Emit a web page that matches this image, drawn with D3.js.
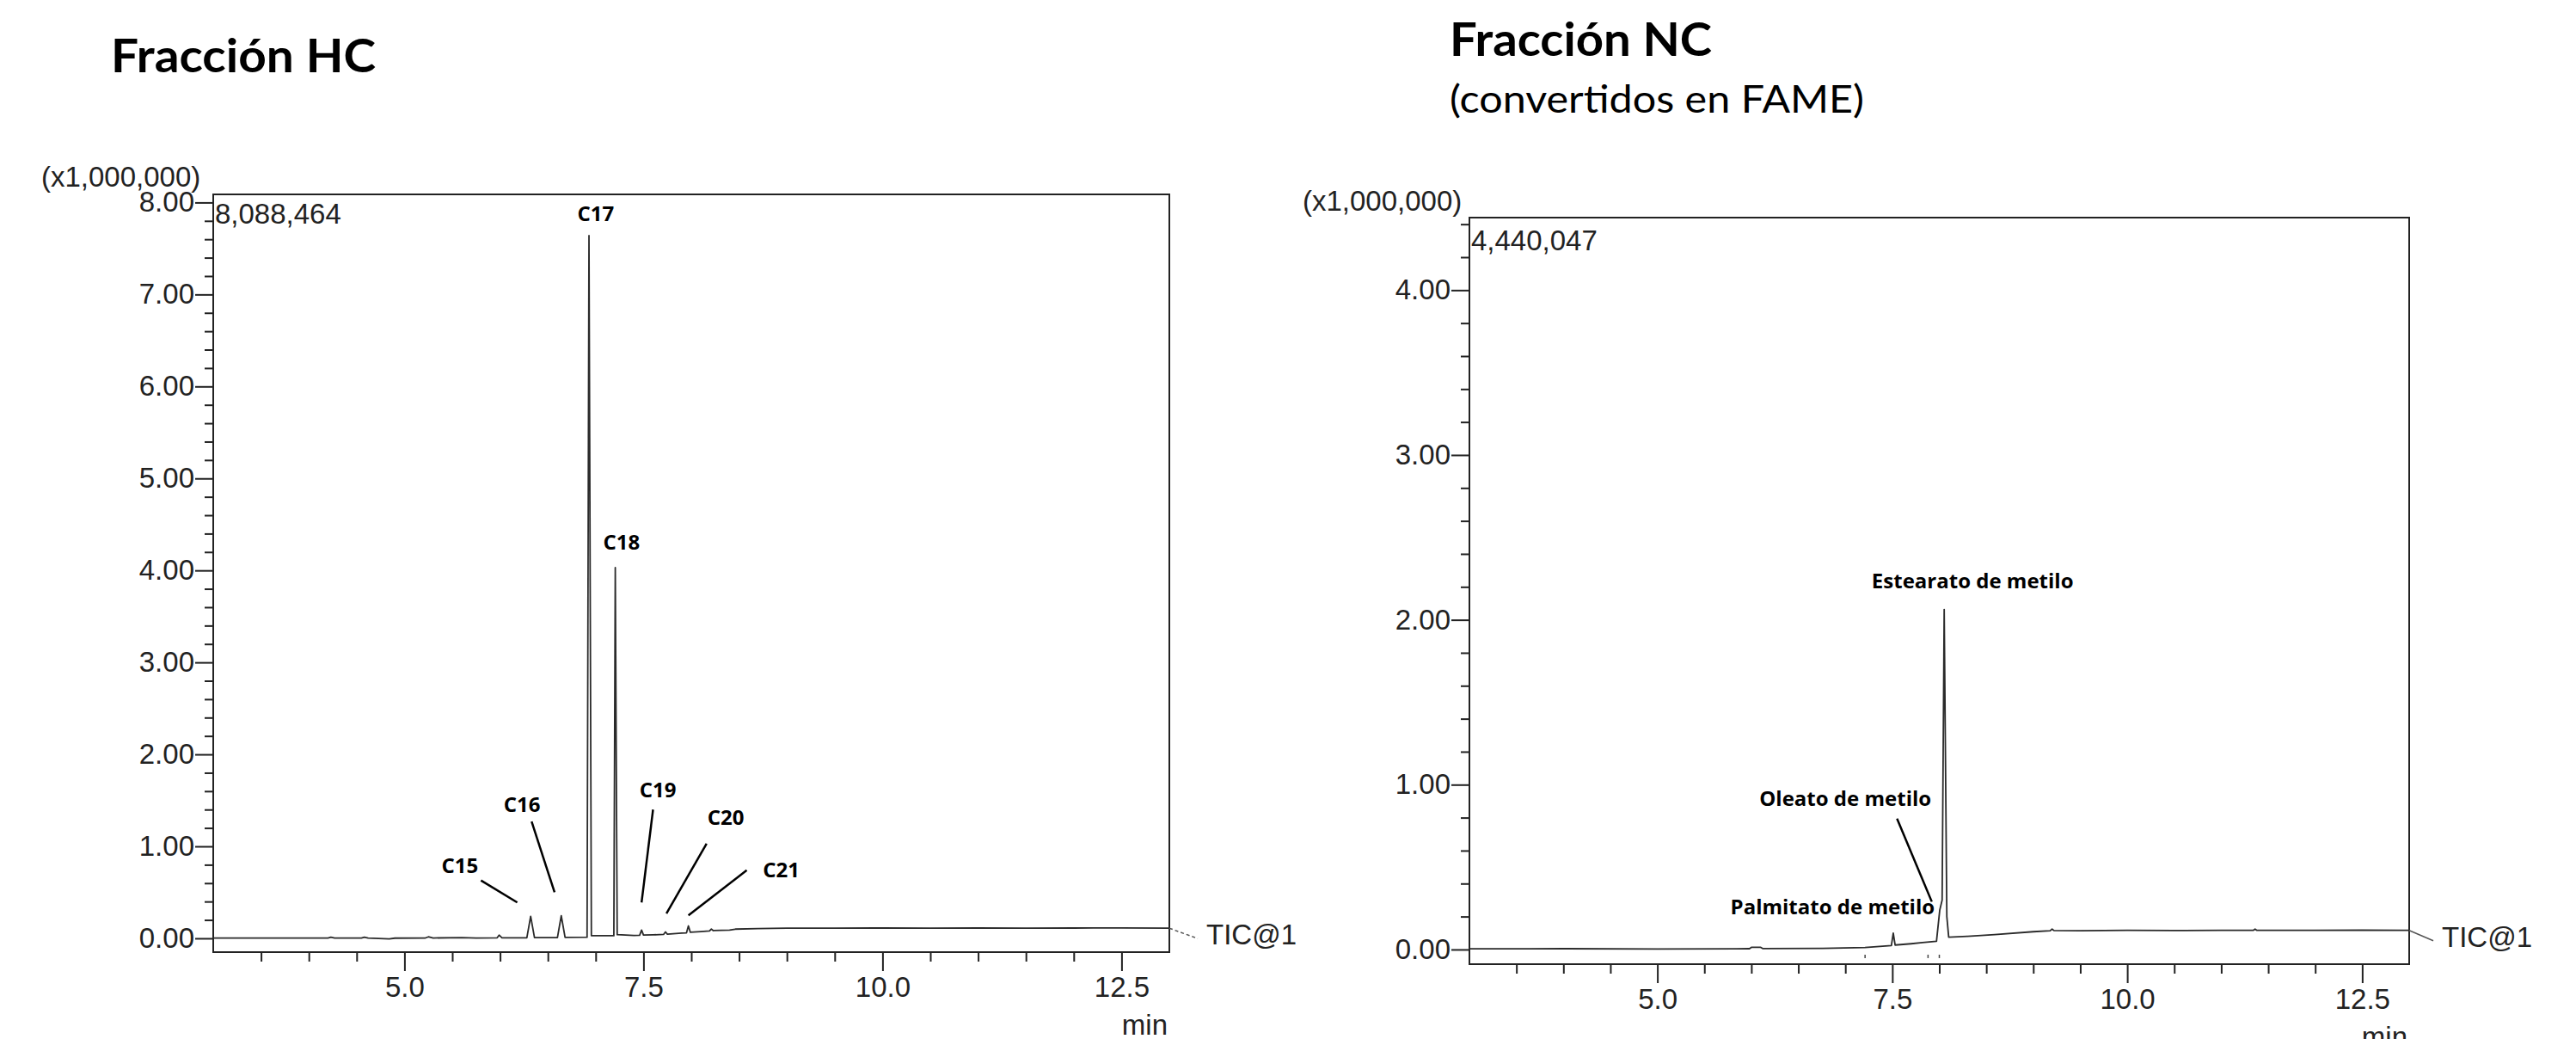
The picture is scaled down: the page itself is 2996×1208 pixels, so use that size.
<!DOCTYPE html>
<html>
<head>
<meta charset="utf-8">
<script src="https://cdn.jsdelivr.net/npm/d3@7"></script>
<style>
  html, body { margin: 0; padding: 0; background: #fff; }
  svg { display: block; }
</style>
</head>
<body>
<script>
// retention time (min) and TIC signal (x1,000,000)
var hcTime   = [3.0, 3.5, 4.0, 4.2, 4.23, 4.27, 4.55, 4.58, 4.62, 4.84, 4.9, 5.22, 5.25, 5.3, 5.6, 5.75, 5.97, 5.99, 6.02,
                6.28, 6.32, 6.36, 6.6, 6.64, 6.68, 6.91, 6.93, 6.955, 7.19, 7.205, 7.225, 7.4, 7.46, 7.48, 7.5, 7.6,
                7.71, 7.73, 7.75, 7.9, 7.95, 7.97, 7.99, 8.1, 8.19, 8.21, 8.23, 8.4, 8.46, 8.7, 9.0, 9.5, 10.0, 10.5,
                11.0, 11.5, 12.0, 12.5, 13.0];
var hcSignal = [0.004, 0.003, 0.003, 0.004, 0.012, 0.003, 0.004, 0.013, 0.003, -0.006, 0.002, 0.004, 0.016, 0.004, 0.008, 0.004, 0.006, 0.035, 0.006,
                0.006, 0.24, 0.008, 0.008, 0.245, 0.01, 0.012, 7.64, 0.03, 0.028, 4.03, 0.04, 0.032, 0.034, 0.09, 0.036, 0.038,
                0.042, 0.07, 0.046, 0.056, 0.06, 0.135, 0.066, 0.074, 0.08, 0.1, 0.084, 0.09, 0.1, 0.106, 0.11, 0.111, 0.112, 0.11,
                0.112, 0.11, 0.112, 0.113, 0.11];

// same for the NC (FAME) chromatogram
var ncTime   = [3.0, 4.0, 5.0, 5.84, 5.98, 6.0, 6.1, 6.12, 6.76, 7.21, 7.49, 7.51, 7.53, 7.7, 7.82, 7.97, 8.005, 8.03,
                8.052, 8.08, 8.1, 8.3, 8.59, 9.0, 9.18, 9.2, 9.22, 9.5, 10.0, 10.5, 11.0, 11.34, 11.36, 11.38, 12.0, 12.5, 13.0];
var ncSignal = [0.004, 0.005, 0.003, 0.004, 0.005, 0.013, 0.013, 0.006, 0.007, 0.012, 0.024, 0.099, 0.027, 0.035, 0.042, 0.05, 0.24, 0.3,
                2.063, 0.2, 0.075, 0.08, 0.09, 0.108, 0.114, 0.124, 0.115, 0.114, 0.116, 0.115, 0.116, 0.116, 0.124, 0.116, 0.116, 0.117, 0.116];

// peak labels (anchor in data units) and leader lines (from -> to, data units)
var hcPeaks       = ["C15", "C16", "C17", "C18", "C19", "C20", "C21"];
var hcPeakTime    = [5.58, 6.23, 7.00, 7.27, 7.65, 8.36, 8.94];
var hcPeakSignal  = [0.71, 1.37, 7.80, 4.23, 1.53, 1.23, 0.66];
var hcLeaderFrom  = [[5.80, 0.63], [6.33, 1.27], null, null, [7.60, 1.40], [8.16, 1.03], [8.58, 0.74]];
var hcLeaderTo    = [[6.18, 0.39], [6.57, 0.50], null, null, [7.48, 0.39], [7.74, 0.27], [7.97, 0.25]];

var ncPeaks       = ["Estearato de metilo", "Oleato de metilo", "Palmitato de metilo"];
var ncPeakTime    = [8.354, 7.00, 6.864];
var ncPeakSignal  = [2.193, 0.872, 0.212];
var ncLeaderFrom  = [null, [7.55, 0.794], null];
var ncLeaderTo    = [null, [7.92, 0.29], null];
var ncMarks       = [7.21, 7.88, 8.0];

var xMajor = [5.0, 7.5, 10.0, 12.5];
var hcYMajor = [0, 1, 2, 3, 4, 5, 6, 7, 8];
var ncYMajor = [0, 1, 2, 3, 4];
var hcMaxLabel = "8,088,464";
var ncMaxLabel = "4,440,047";

var W = 2996, H = 1208;
var axisFont = "'Liberation Sans', Arial, sans-serif";
var labelFont = "'Open Sans', sans-serif";

var svg = d3.select("body").append("svg")
    .attr("width", W)
    .attr("height", H)
    .style("background", "#fff");

// titles
svg.append("text").attr("x", 129).attr("y", 84)
    .attr("font-family", "Lato, sans-serif").attr("font-weight", 700).attr("font-size", 54)
    .attr("textLength", 308).attr("lengthAdjust", "spacingAndGlyphs")
    .text("Fracción HC");
svg.append("text").attr("x", 1686).attr("y", 65)
    .attr("font-family", "Lato, sans-serif").attr("font-weight", 700).attr("font-size", 54)
    .attr("textLength", 305).attr("lengthAdjust", "spacingAndGlyphs")
    .text("Fracción NC");
svg.append("text").attr("x", 1686).attr("y", 131)
    .attr("font-family", "Lato, sans-serif").attr("font-weight", 400).attr("font-size", 44)
    .attr("textLength", 482).attr("lengthAdjust", "spacingAndGlyphs")
    .text("(convertidos en FAME)");

function chromatogram(opt) {
    var x = d3.scaleLinear().domain([3, 13]).range([opt.left, opt.right]);
    var y = d3.scaleLinear().domain([opt.yMin, opt.yMax]).range([opt.bottom, opt.top]);
    var g = svg.append("g");

    // y axis: minor every 0.2, major every 1
    var yMinor = d3.range(0, opt.yMax + 1e-9, 0.2).filter(function(v) { return Math.abs(v - Math.round(v)) > 1e-6; });
    g.append("g").attr("transform", "translate(" + opt.left + ",0)")
        .call(d3.axisLeft(y).tickValues(yMinor).tickSize(10).tickSizeOuter(0).tickFormat(""));
    g.append("g").attr("transform", "translate(" + opt.left + ",0)")
        .call(d3.axisLeft(y).tickValues(opt.yMajor).tickSize(21).tickSizeOuter(0).tickPadding(1).tickFormat(d3.format(".2f")));

    // x axis: minor every 0.5 min, major every 2.5 min
    var xMinor = d3.range(3.5, 13, 0.5).filter(function(v) { return xMajor.indexOf(v) < 0; });
    g.append("g").attr("transform", "translate(0," + opt.bottom + ")")
        .call(d3.axisBottom(x).tickValues(xMinor).tickSize(11).tickSizeOuter(0).tickFormat(""));
    g.append("g").attr("transform", "translate(0," + opt.bottom + ")")
        .call(d3.axisBottom(x).tickValues(xMajor).tickSize(22).tickSizeOuter(0).tickPadding(7).tickFormat(d3.format(".1f")));

    g.selectAll(".domain").remove();
    g.selectAll(".tick line").attr("stroke", "#222").attr("stroke-width", 2);
    g.selectAll(".tick text").attr("font-family", axisFont).attr("font-size", 33).attr("fill", "#222");

    // plot frame
    g.append("rect")
        .attr("x", opt.left).attr("y", opt.top)
        .attr("width", opt.right - opt.left).attr("height", opt.bottom - opt.top)
        .attr("fill", "none").attr("stroke", "#222").attr("stroke-width", 2);

    // trace
    var pts = opt.time.map(function(t, i) { return [t, opt.signal[i]]; });
    g.append("path")
        .datum(pts)
        .attr("fill", "none")
        .attr("stroke", "#2a2a2a")
        .attr("stroke-width", 1.8)
        .attr("stroke-linejoin", "round")
        .attr("d", d3.line().x(function(d) { return x(d[0]); }).y(function(d) { return y(d[1]); }));

    // integration marks under the baseline
    if (opt.marks) {
        g.selectAll(".mark").data(opt.marks).enter().append("line")
            .attr("x1", function(d) { return x(d); }).attr("x2", function(d) { return x(d); })
            .attr("y1", y(0) + 6).attr("y2", y(0) + 10)
            .attr("stroke", "#444").attr("stroke-width", 1.5);
    }

    // scale multiplier and max intensity
    g.append("text").attr("x", opt.multX).attr("y", opt.multY)
        .attr("font-family", axisFont).attr("font-size", 33).attr("fill", "#222")
        .text("(x1,000,000)");
    g.append("text").attr("x", opt.left + 2).attr("y", opt.top + opt.maxDy)
        .attr("font-family", axisFont).attr("font-size", 33).attr("fill", "#222")
        .text(opt.maxLabel);

    // "min" unit
    g.append("text").attr("x", opt.right - 2).attr("y", opt.bottom + 96)
        .attr("text-anchor", "end")
        .attr("font-family", axisFont).attr("font-size", 33).attr("fill", "#222")
        .text("min");

    // trace name
    var yEnd = y(opt.signal[opt.signal.length - 1]);
    g.append("line")
        .attr("x1", opt.right).attr("y1", yEnd)
        .attr("x2", opt.right + opt.ticDx).attr("y2", yEnd + 12)
        .attr("stroke", "#555").attr("stroke-width", 1.5)
        .attr("stroke-dasharray", opt.ticDash);
    g.append("text").attr("x", opt.right + opt.ticDx + 10).attr("y", yEnd + 19)
        .attr("font-family", axisFont).attr("font-size", 33).attr("fill", "#222")
        .text("TIC@1");

    // peak labels
    g.selectAll(".peak").data(opt.peaks).enter().append("text")
        .attr("x", function(d, i) { return x(opt.peakTime[i]); })
        .attr("y", function(d, i) { return y(opt.peakSignal[i]); })
        .attr("text-anchor", "middle")
        .attr("font-family", labelFont).attr("font-weight", 700).attr("font-size", 24)
        .attr("fill", "#000")
        .text(function(d) { return d; });

    var leaders = opt.leaderFrom.map(function(f, i) { return f ? [f, opt.leaderTo[i]] : null; })
        .filter(function(d) { return d; });
    g.selectAll(".leader").data(leaders).enter().append("line")
        .attr("x1", function(d) { return x(d[0][0]); })
        .attr("y1", function(d) { return y(d[0][1]); })
        .attr("x2", function(d) { return x(d[1][0]); })
        .attr("y2", function(d) { return y(d[1][1]); })
        .attr("stroke", "#000").attr("stroke-width", 2.5);
}

chromatogram({
    left: 248, right: 1360, top: 226, bottom: 1107,
    yMin: -0.15, yMax: 8.088, yMajor: hcYMajor,
    time: hcTime, signal: hcSignal,
    peaks: hcPeaks, peakTime: hcPeakTime, peakSignal: hcPeakSignal,
    leaderFrom: hcLeaderFrom, leaderTo: hcLeaderTo,
    maxLabel: hcMaxLabel, maxDy: 34,
    multX: 48, multY: 217,
    ticDx: 33, ticDash: "4,3"
});

chromatogram({
    left: 1709, right: 2802, top: 253, bottom: 1121,
    yMin: -0.089, yMax: 4.44, yMajor: ncYMajor,
    time: ncTime, signal: ncSignal,
    peaks: ncPeaks, peakTime: ncPeakTime, peakSignal: ncPeakSignal,
    leaderFrom: ncLeaderFrom, leaderTo: ncLeaderTo,
    marks: ncMarks,
    maxLabel: ncMaxLabel, maxDy: 38,
    multX: 1515, multY: 245,
    ticDx: 28, ticDash: null
});
</script>
</body>
</html>
